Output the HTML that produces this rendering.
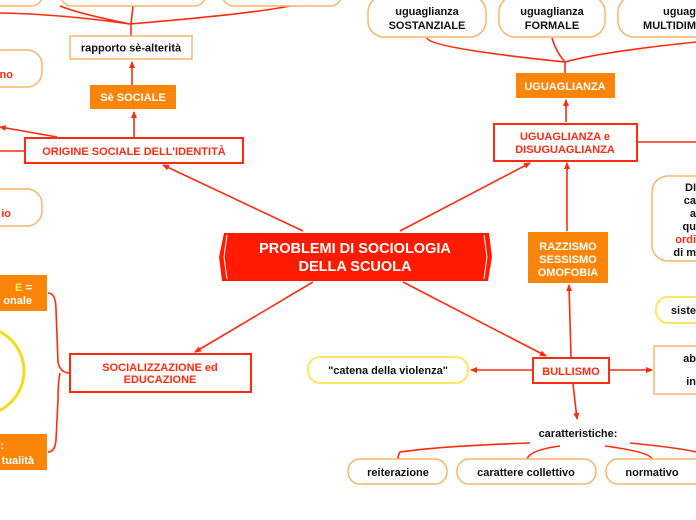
<!DOCTYPE html>
<html><head><meta charset="utf-8"><style>
html,body{margin:0;padding:0;background:#fff;width:696px;height:520px;overflow:hidden}
svg{display:block}
text{font-family:"Liberation Sans",sans-serif;font-weight:bold}
</style></head><body>
<svg width="696" height="520" viewBox="0 0 696 520" xmlns="http://www.w3.org/2000/svg">
<defs><marker id="a" markerWidth="8" markerHeight="8" refX="6" refY="4" orient="auto" markerUnits="userSpaceOnUse"><path d="M0,1 L7,4 L0,7z" fill="#ff2a10"/></marker></defs>
<g fill="none" stroke="#ff2a10" stroke-width="1.6">
<!-- top left connectors -->
<path d="M0,13 Q60,14 130,24 M60,6 Q80,14 130,24 M290,6 Q250,14 130,24 M133,6 L131,24 L131,36"/>
<path d="M132,85 L132,62" marker-end="url(#a)"/>
<path d="M134,137 L134,112" marker-end="url(#a)"/>
<path d="M57,137 L0,127" marker-end="url(#a)"/>
<path d="M25,151 L0,151"/>
<path d="M303,231 L163,165" marker-end="url(#a)"/>
<!-- top right connectors -->
<path d="M427,38 Q430,48 565,62 M552,38 Q556,52 565,62 M696,42 Q600,52 565,62 L565,73"/>
<path d="M566,122 L566,100" marker-end="url(#a)"/>
<path d="M637,142 L696,142"/>
<path d="M400,231 L530,163" marker-end="url(#a)"/>
<path d="M567,231 L567,163" marker-end="url(#a)"/>
<!-- bottom -->
<path d="M313,282 L195,352" marker-end="url(#a)"/>
<path d="M403,282 L546,356" marker-end="url(#a)"/>
<path d="M571,357 L569,285" marker-end="url(#a)"/>
<path d="M533,370 L471,370" marker-end="url(#a)"/>
<path d="M609,370 L652,370" marker-end="url(#a)"/>
<path d="M573,384 L577,419" marker-end="url(#a)"/>
<path d="M530,443 Q440,446 400,452 Q398,455 398,459 M560,446 Q530,450 527,459 M605,446 Q650,452 652,459 M630,443 Q680,448 696,452"/>
<!-- left bracket -->
<path d="M48,293 Q56,293 56,310 L58,362 Q60,373 70,373 M60,373 Q58,382 58,400 L56,440 Q55,452 48,452"/>
</g>
<!-- top-left boxes -->
<g fill="#fff" stroke="#fbb36a" stroke-width="1.5">
<rect x="-30" y="-20" width="73" height="26" rx="12"/>
<rect x="60" y="-20" width="146" height="26" rx="12"/>
<rect x="222" y="-20" width="120" height="26" rx="12"/>
<rect x="-40" y="50" width="82" height="37" rx="15"/>
<rect x="-40" y="189" width="82" height="37" rx="15"/>
<rect x="368" y="-4" width="118" height="41" rx="16"/>
<rect x="499" y="-4" width="106" height="41" rx="16"/>
<rect x="618" y="-4" width="120" height="41" rx="16"/>
<rect x="652" y="176" width="80" height="85" rx="16"/>
<rect x="348" y="459" width="99" height="25" rx="12"/>
<rect x="457" y="459" width="139" height="25" rx="12"/>
<rect x="606" y="459" width="100" height="25" rx="12"/>
<rect x="70" y="36" width="122" height="23"/>
<rect x="654" y="346" width="60" height="48"/>
</g>
<g fill="#fff" stroke="#ffe566" stroke-width="2">
<rect x="308" y="357" width="160" height="26" rx="12"/>
<rect x="656" y="297" width="60" height="26" rx="12"/>
<circle cx="-20" cy="371" r="44" stroke="#f5dc1a" stroke-width="3"/>
</g>
<g fill="#fff" stroke="#ff2a10" stroke-width="2">
<rect x="25" y="138" width="218" height="25"/>
<rect x="494" y="124" width="143" height="37"/>
<rect x="533" y="358" width="76" height="25"/>
<rect x="70" y="354" width="181" height="38"/>
</g>
<g fill="#fb8508">
<rect x="90" y="85" width="86" height="24"/>
<rect x="516" y="73" width="99" height="25"/>
<rect x="528" y="232" width="80" height="51"/>
<rect x="-10" y="275" width="57" height="36"/>
<rect x="-10" y="434" width="57" height="36"/>
</g>
<path d="M224,233 L489,233 L492,257 L488,281 L222,281 L219,257 Z" fill="#ff1a00"/>
<path d="M227,235 L224,257 L227,279 M484,235 L487,257 L484,279" stroke="#fff" stroke-width="1" fill="none"/>
<g font-size="11" text-anchor="middle" fill="#111">
<text x="131" y="51.5">rapporto sè-alterità</text>
<text x="427" y="15">uguaglianza</text><text x="427" y="29">SOSTANZIALE</text>
<text x="552" y="15">uguaglianza</text><text x="552" y="29">FORMALE</text>
<text x="696" y="15" text-anchor="end">uguag</text><text x="696" y="29" text-anchor="end">MULTIDIM</text>
<text x="388" y="374">"catena della violenza"</text>
<text x="578" y="437">caratteristiche:</text>
<text x="398" y="476">reiterazione</text>
<text x="526" y="476">carattere collettivo</text>
<text x="652" y="476">normativo</text>
<text x="696" y="314" text-anchor="end">siste</text>
<text x="696" y="362" text-anchor="end">ab</text>
<text x="696" y="385" text-anchor="end">in</text>
<text x="696" y="191" text-anchor="end">DI</text>
<text x="696" y="204" text-anchor="end" font-weight="normal">ca</text>
<text x="696" y="217" text-anchor="end" font-weight="normal">a</text>
<text x="696" y="230" text-anchor="end">qu</text>
<text x="696" y="243" text-anchor="end" fill="#ff2a10">ordi</text>
<text x="696" y="256" text-anchor="end" font-weight="normal">di m</text>
</g>
<g font-size="11" text-anchor="middle" fill="#ff2a10">
<text x="134" y="155">ORIGINE SOCIALE DELL'IDENTITÀ</text>
<text x="565" y="140">UGUAGLIANZA e</text><text x="565" y="153">DISUGUAGLIANZA</text>
<text x="571" y="375">BULLISMO</text>
<text x="160" y="371">SOCIALIZZAZIONE ed</text><text x="160" y="383">EDUCAZIONE</text>
<text x="13" y="78" text-anchor="end">no</text>
<text x="11" y="217" text-anchor="end">io</text>
</g>
<g font-size="11" text-anchor="middle" fill="#fff">
<text x="133" y="101">Sè SOCIALE</text>
<text x="565" y="90">UGUAGLIANZA</text>
<text x="568" y="250">RAZZISMO</text><text x="568" y="263">SESSISMO</text><text x="568" y="276">OMOFOBIA</text>
<text x="32" y="291" text-anchor="end"><tspan fill="#ffe566">E</tspan> =</text><text x="32" y="304" text-anchor="end">onale</text>
<text x="4" y="449" text-anchor="end">:</text><text x="34" y="464" text-anchor="end">tualità</text>
<text x="355" y="253" font-size="14.5">PROBLEMI DI SOCIOLOGIA</text>
<text x="355" y="271" font-size="14.5">DELLA SCUOLA</text>
</g>
</svg>
</body></html>
